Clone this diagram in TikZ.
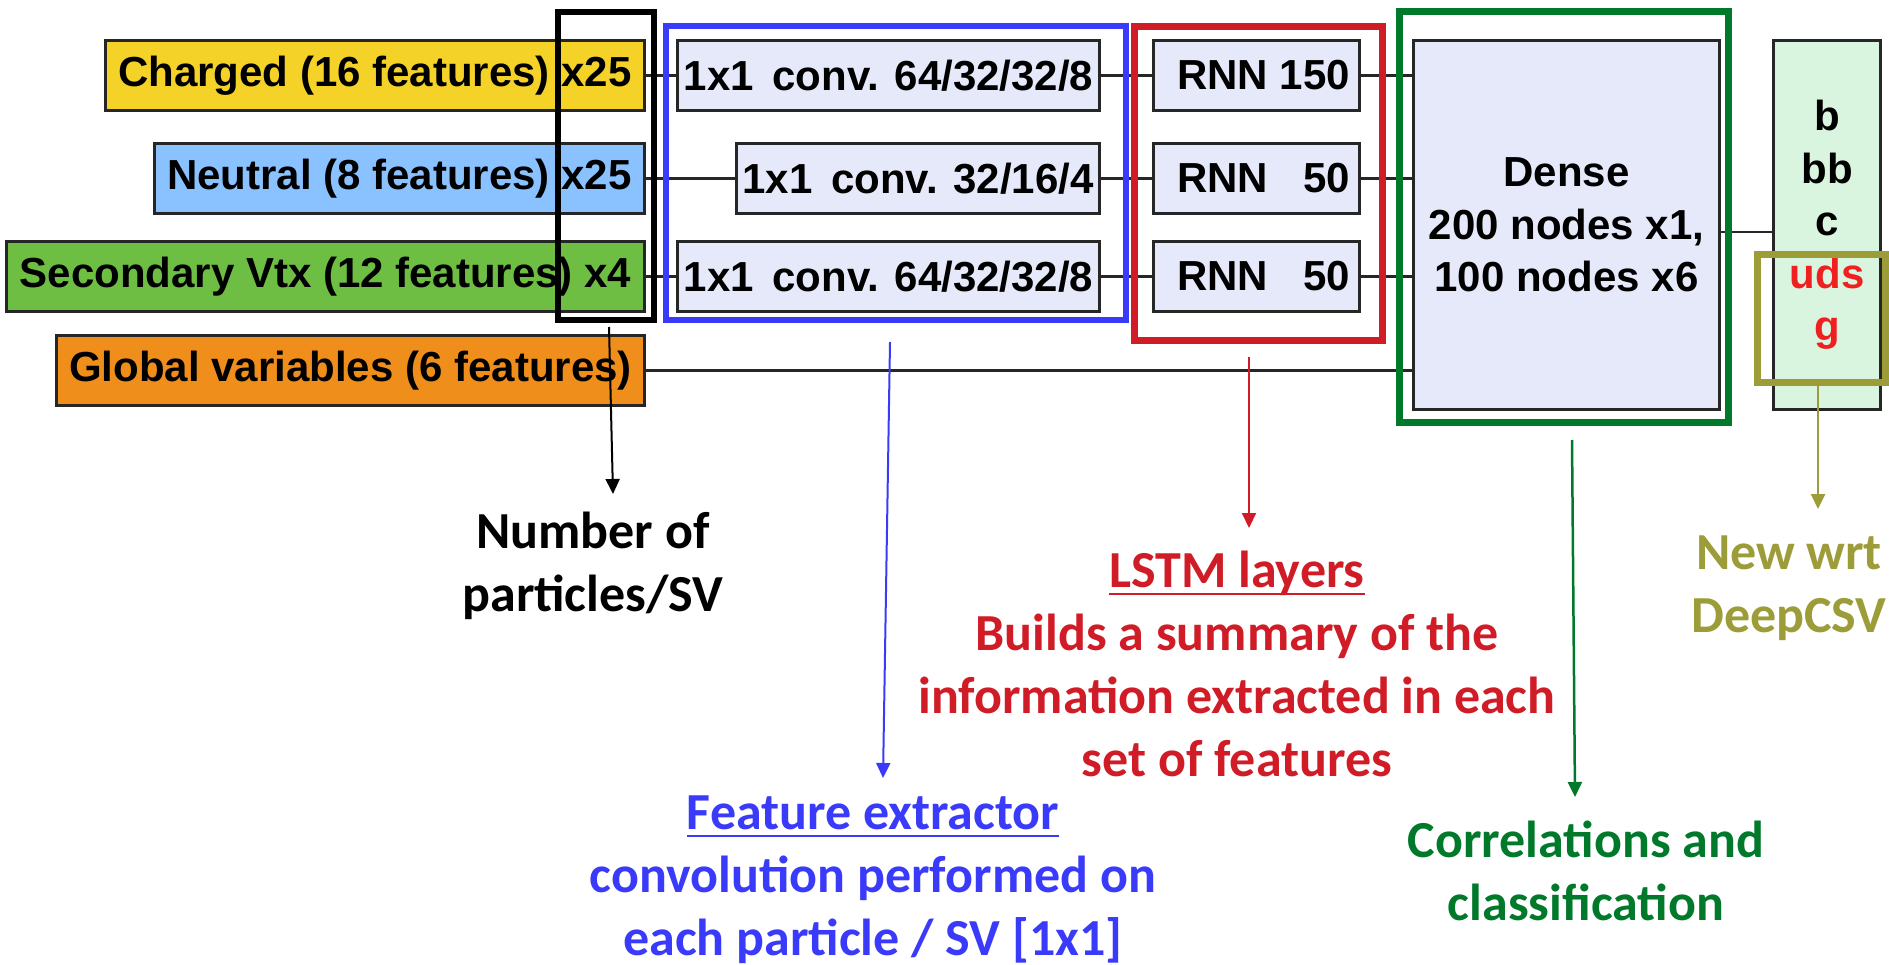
\documentclass[tikz,border=0pt]{standalone}
\usepackage{fontspec}
\usetikzlibrary{arrows.meta}
\newfontfamily\hvfont{Liberation Sans}
\newfontfamily\cbfont{Carlito}
\definecolor{cYellow}{RGB}{245,210,40}
\definecolor{cLBlue}{RGB}{138,194,255}
\definecolor{cGreenF}{RGB}{110,190,68}
\definecolor{cOrange}{RGB}{240,142,28}
\definecolor{cLav}{RGB}{229,233,250}
\definecolor{cMint}{RGB}{217,245,224}
\definecolor{cBlue}{RGB}{58,58,250}
\definecolor{cRed}{RGB}{208,28,38}
\definecolor{cGreen}{RGB}{0,122,42}
\definecolor{cOlive}{RGB}{156,156,56}
\definecolor{cUds}{RGB}{240,32,32}
\newcommand\myul[2]{\setbox0=\hbox{#2}\rlap{\rule[#1]{\wd0}{2.5pt}}\box0}
\begin{document}
\begin{tikzpicture}[x=1pt,y=-1pt,
  box/.style={draw=black!85, line width=3pt, inner sep=0pt, minimum height=70pt,
    font=\hvfont\bfseries\fontsize{42}{52.5}\selectfont, text=black},
  conn/.style={draw=black!85, line width=2.5pt},
  frame/.style={line width=6.5pt, inner sep=0pt},
  ann/.style={inner sep=0pt, font=\cbfont\bfseries\fontsize{52}{63}\selectfont},
  pointer/.style={line width=2pt, -{Triangle[length=15pt,width=14pt]}}]
\useasboundingbox (0,0) rectangle (1889,965);
% input boxes
\node[box, fill=cYellow, minimum width=539pt] (charged) at (375,75.5) {Charged (16 features) x25};
\node[box, fill=cLBlue, minimum width=490pt] (neutral) at (399.5,178.5) {Neutral (8 features) x25};
\node[box, fill=cGreenF, minimum width=638pt] (secondary) at (325.5,276.5) {Secondary Vtx (12 features) x4};
\node[box, fill=cOrange, minimum width=588pt] (global) at (350.5,370.5) {Global variables (6 features)};
% conv boxes
\node[box, fill=cLav, minimum width=422pt] (conv1) at (888.5,75.5) {1x1\, conv. 64/32/32/8};
\node[box, fill=cLav, minimum width=363pt] (conv2) at (918,178.5) {1x1\, conv. 32/16/4};
\node[box, fill=cLav, minimum width=422pt] (conv3) at (888.5,276.5) {1x1\, conv. 64/32/32/8};
% rnn boxes
\node[box, fill=cLav, minimum width=206pt] (rnn1) at (1256.5,75.5) {\hspace*{14pt}\makebox[173pt]{RNN\hfill 150}};
\node[box, fill=cLav, minimum width=206pt] (rnn2) at (1256.5,178.5) {\hspace*{14pt}\makebox[173pt]{RNN\hfill 50}};
\node[box, fill=cLav, minimum width=206pt] (rnn3) at (1256.5,276.5) {\hspace*{14pt}\makebox[173pt]{RNN\hfill 50}};
% dense and output
\node[box, fill=cLav, minimum width=306pt, minimum height=369pt, align=center] (dense) at (1566.5,225) {Dense\\200 nodes x1,\\100 nodes x6};
\node[box, fill=cMint, minimum width=107pt, minimum height=369pt, align=center] (out) at (1827,225) {b\\bb\\c\\\textcolor{cUds}{uds}\\\textcolor{cUds}{g}};
% connectors
\draw[conn] (charged) -- (conv1);
\draw[conn] (neutral) -- (conv2);
\draw[conn] (secondary) -- (conv3);
\draw[conn] (conv1) -- (rnn1);
\draw[conn] (conv2) -- (rnn2);
\draw[conn] (conv3) -- (rnn3);
\draw[conn] (rnn1) -- (rnn1 -| dense.west);
\draw[conn] (rnn2) -- (rnn2 -| dense.west);
\draw[conn] (rnn3) -- (rnn3 -| dense.west);
\draw[conn] (global) -- (global -| dense.west);
\draw[conn] ([yshift=-7pt]dense.east) -- ([yshift=-7pt]dense.east -| out.west);
% frames
\node[frame, draw=black, minimum width=96pt, minimum height=308pt] (numframe) at (606,166) {};
\node[frame, draw=cBlue, minimum width=460pt, minimum height=294pt] (featframe) at (896,173) {};
\node[frame, draw=cRed, minimum width=248pt, minimum height=314pt] (lstmframe) at (1258.5,183.5) {};
\node[frame, draw=cGreen, minimum width=329pt, minimum height=411pt] (corrframe) at (1564,217) {};
\node[frame, draw=cOlive, minimum width=128pt, minimum height=128pt] (newframe) at (1821.5,318.5) {};
% annotations
\node[ann, anchor=base, text=black] (numtext) at (593,548) {\begin{tabular}[t]{@{}c@{}}Number of\\particles/SV\end{tabular}};
\node[ann, anchor=base, text=cBlue] (feattext) at (873,829) {\begin{tabular}[t]{@{}c@{}}\myul{-8pt}{Feature extractor}\\convolution performed on\\each particle / SV [1x1]\end{tabular}};
\node[ann, anchor=base, text=cRed] (lstmtext) at (1237,587) {\begin{tabular}[t]{@{}c@{}}\myul{-8pt}{LSTM layers}\\Builds a summary of the\\information extracted in each\\set of features\end{tabular}};
\node[ann, anchor=base, text=cGreen] (corrtext) at (1586,857) {\begin{tabular}[t]{@{}c@{}}Correlations and\\classification\end{tabular}};
\node[ann, anchor=base, text=cOlive] (newtext) at (1789,569) {\begin{tabular}[t]{@{}c@{}}New wrt\\DeepCSV\end{tabular}};
% pointer arrows
\coordinate (numS) at (609,327);  \coordinate (numE) at (613,494);
\coordinate (featS) at (890,342); \coordinate (featE) at (883,778);
\coordinate (lstmS) at (1249,357); \coordinate (lstmE) at (1249,528);
\coordinate (corrS) at (1572,440); \coordinate (corrE) at (1575,797);
\coordinate (newS) at (1818,386); \coordinate (newE) at (1818,509);
\draw[pointer, draw=black, fill=black] (numS) -- (numE);
\draw[pointer, draw=cBlue, fill=cBlue] (featS) -- (featE);
\draw[pointer, draw=cRed, fill=cRed] (lstmS) -- (lstmE);
\draw[pointer, draw=cGreen, fill=cGreen, line width=2.5pt] (corrS) -- (corrE);
\draw[pointer, draw=cOlive, fill=cOlive, line width=2.5pt] (newS) -- (newE);
\end{tikzpicture}
\end{document}
